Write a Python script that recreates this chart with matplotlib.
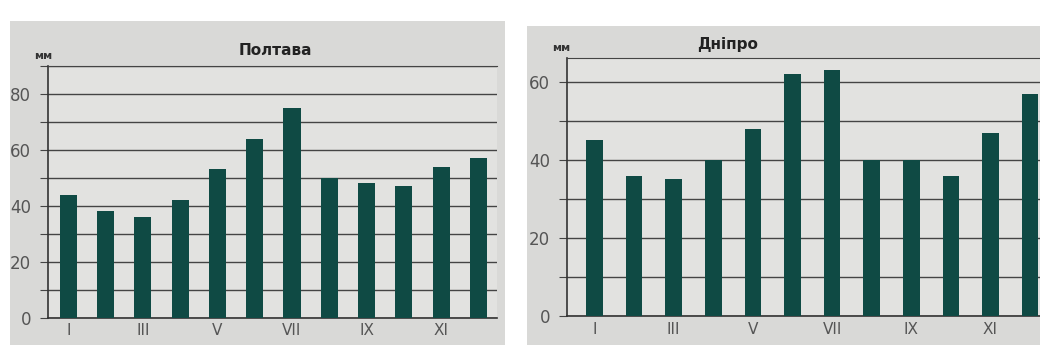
import matplotlib.pyplot as plt
from matplotlib.patches import Rectangle
import numpy as np

# Опади по місяцях, мм
months = ["I", "II", "III", "IV", "V", "VI", "VII", "VIII", "IX", "X", "XI", "XII"]
poltava = [44, 38, 36, 42, 53, 64, 75, 50, 48, 47, 54, 57]
dnipro = [45, 36, 35, 40, 48, 62, 63, 40, 40, 36, 47, 57]
titles = ["Полтава", "Дніпро"]

bar_color = "#0f4a44"
panel_color = "#d9d9d7"
grid_color = "#444444"
text_color = "#555555"

fig = plt.figure(figsize=(10.4, 3.58), dpi=100)
fig.patch.set_facecolor("white")

# сірі "аркуші" під графіками
fig.patches.append(Rectangle((0.01, 0.036), 0.476, 0.905, transform=fig.transFigure,
                             facecolor=panel_color, edgecolor="none", zorder=-5))
fig.patches.append(Rectangle((0.507, 0.036), 0.493, 0.89, transform=fig.transFigure,
                             facecolor=panel_color, edgecolor="none", zorder=-5))

x = np.arange(len(months))


def draw(ax, values, ymax, yticks, width, xmin, xmax, title, title_x, title_y):
    ax.set_facecolor("#e2e2e0")
    ax.bar(x, values, width=width, color=bar_color, zorder=3)
    ax.set_ylim(0, ymax)
    ax.set_xlim(xmin, xmax)
    grid = np.arange(0, ymax + 1, 10)
    ax.set_yticks(grid)
    ax.set_yticklabels([str(v) if v in yticks else "" for v in grid])
    ax.yaxis.grid(True, color=grid_color, linewidth=1.0, zorder=1)
    ax.set_axisbelow(True)
    ax.set_xticks(x[::2])
    ax.set_xticklabels(months[::2])
    ax.tick_params(axis="y", length=6, color=grid_color, labelsize=12, labelcolor=text_color, pad=6)
    ax.tick_params(axis="x", length=0, labelsize=11, labelcolor=text_color, pad=4)
    for s in ["left", "bottom"]:
        ax.spines[s].set_color("#333333")
        ax.spines[s].set_linewidth(1.2)
    ax.spines["top"].set_color(grid_color)
    ax.spines["right"].set_visible(False)
    ax.text(-0.03, 1.02, "мм", transform=ax.transAxes, fontsize=8, fontweight="bold",
            color="#333333", ha="left", va="bottom")
    fig.text(title_x, title_y, title, fontsize=11, fontweight="bold", color="#222222",
             ha="center", va="center")


ax1 = fig.add_axes([0.046, 0.112, 0.432, 0.704])
draw(ax1, poltava, 90, [0, 20, 40, 60, 80], 0.46, -0.55, 11.5, titles[0], 0.265, 0.86)

ax2 = fig.add_axes([0.545, 0.117, 0.455, 0.72])
draw(ax2, dnipro, 66, [0, 20, 40, 60], 0.42, -0.7, 11.25, titles[1], 0.7, 0.875)

plt.savefig("out.png", dpi=100)
